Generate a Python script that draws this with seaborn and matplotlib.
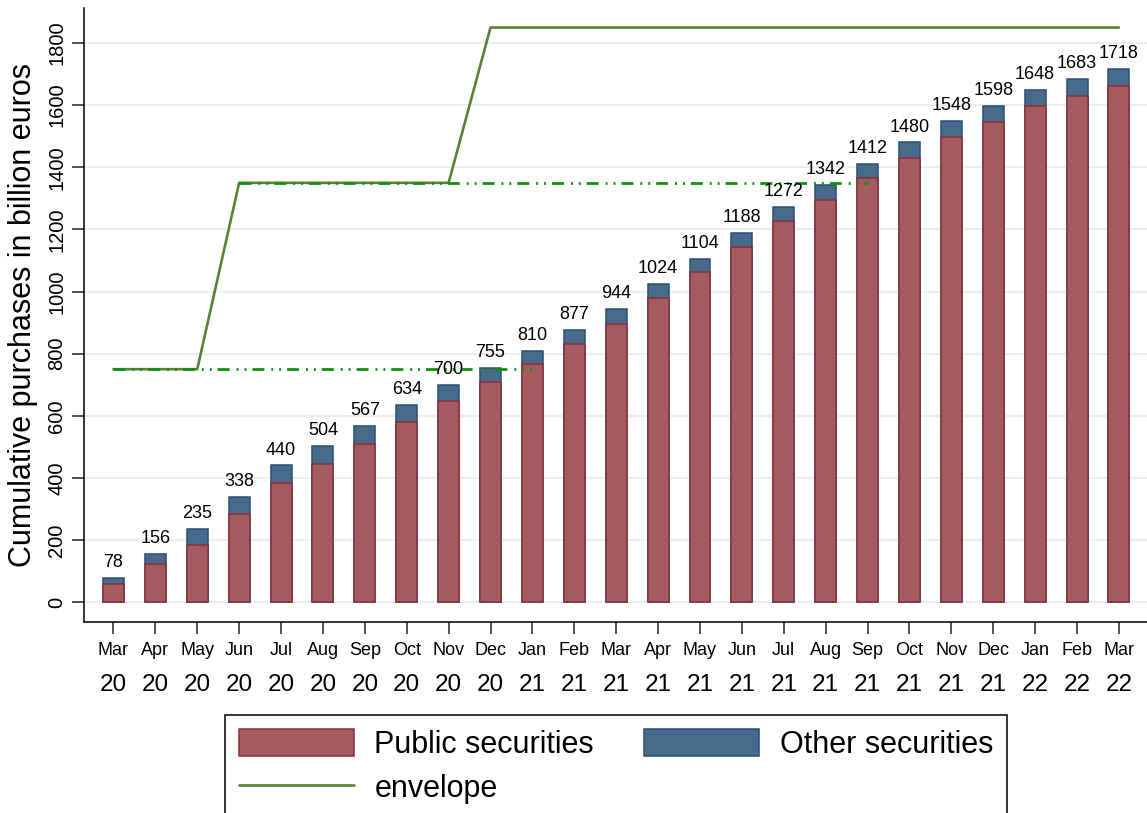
import matplotlib
matplotlib.use("Agg")
import matplotlib.pyplot as plt
import numpy as np
import pandas as pd
import seaborn as sns
from matplotlib.patches import Patch
from matplotlib.lines import Line2D

# data (billion euros, cumulative)
months = ["Mar", "Apr", "May", "Jun", "Jul", "Aug", "Sep", "Oct", "Nov", "Dec",
          "Jan", "Feb", "Mar", "Apr", "May", "Jun", "Jul", "Aug", "Sep", "Oct",
          "Nov", "Dec", "Jan", "Feb", "Mar"]
years = ["20", "20", "20", "20", "20", "20", "20", "20", "20", "20",
         "21", "21", "21", "21", "21", "21", "21", "21", "21", "21",
         "21", "21", "22", "22", "22"]
total = [78, 156, 235, 338, 440, 504, 567, 634, 700, 755, 810, 877, 944,
         1024, 1104, 1188, 1272, 1342, 1412, 1480, 1548, 1598, 1648, 1683, 1718]
public = [60, 122, 184, 284, 382, 446, 510, 580, 649, 708, 766, 831, 897,
          980, 1063, 1144, 1228, 1294, 1364, 1430, 1496, 1545, 1596, 1629, 1663]
envelope = [750, 750, 750, 1350, 1350, 1350, 1350, 1350, 1350, 1850, 1850, 1850, 1850,
            1850, 1850, 1850, 1850, 1850, 1850, 1850, 1850, 1850, 1850, 1850, 1850]
# earlier envelope levels, drawn dashed between two periods
ref_levels = [750, 1350]
ref_start = ["Mar 20", "Jun 20"]
ref_end = ["Jan 21", "Sep 21"]
yticks = [0, 200, 400, 600, 800, 1000, 1200, 1400, 1600, 1800]

periods = [m + " " + y for m, y in zip(months, years)]
df = pd.DataFrame({"period": periods, "total": total, "public": public})
pos = {p: i for i, p in enumerate(periods)}

red = "#a45b60"
red_edge = "#8c2e3a"
blue = "#486a8b"
blue_edge = "#274f78"
env_col = "#5b8038"
dash_col = "#119111"

sns.set_theme(style="white")
plt.rcParams['font.family'] = ['Liberation Sans', 'DejaVu Sans']
plt.rcParams['lines.scale_dashes'] = False
plt.rcParams['text.color'] = 'black'
plt.rcParams['axes.labelcolor'] = 'black'
plt.rcParams['xtick.color'] = 'black'
plt.rcParams['ytick.color'] = 'black'
plt.rcParams['ytick.labelsize'] = 14.5
plt.rcParams['xtick.labelsize'] = 13

fig = plt.figure(figsize=(11.47, 8.13), dpi=100)
ax = fig.add_axes([0.0732, 0.2349, 0.9268, 0.7553])

# stacked bars: total (blue) underneath, public (red) over it
sns.barplot(data=df, x="period", y="total", order=periods, color=blue, saturation=1,
            width=0.5, edgecolor=blue_edge, linewidth=1.1, errorbar=None, ax=ax)
sns.barplot(data=df, x="period", y="public", order=periods, color=red, saturation=1,
            width=0.5, edgecolor=red_edge, linewidth=1.1, errorbar=None, ax=ax)
ax.bar_label(ax.containers[0], labels=[str(v) for v in total], padding=5.0,
             fontsize=13, color="black")

sns.lineplot(x=np.arange(len(envelope)), y=envelope, color=env_col, lw=1.9,
             sort=False, ax=ax)
for lvl, a, b in zip(ref_levels, ref_start, ref_end):
    ax.plot([pos[a], pos[b]], [lvl, lvl], color=dash_col, lw=2.0,
            linestyle=(0, (8.6, 5, 1.4, 4.3, 1.4, 4.3)))

ax.set_xlim(-0.704, 24.67)
ax.set_ylim(-64, 1913)
ax.set_yticks(yticks)
ax.set_xticks(range(len(months)))
ax.set_xticklabels(months)
ax.tick_params(axis="both", length=8.6, width=1.1, color="#222222")
ax.tick_params(axis="x", pad=5.8, bottom=True, labelsize=13)
ax.tick_params(axis="y", pad=4.0, left=True, labelsize=14.5, labelrotation=90)
for lab in ax.get_yticklabels():
    lab.set_va("center")

for i, y in enumerate(years):
    ax.text(i, -0.1026, y, transform=ax.get_xaxis_transform(), ha="center",
            va="center", fontsize=17.5, color="black")

ax.set_xlabel("")
ax.set_ylabel("Cumulative purchases in billion euros", fontsize=22)
ax.yaxis.set_label_coords(-0.043, 0.5)

ax.yaxis.grid(True, color="#e8f0f2", lw=1.5)
ax.xaxis.grid(False)
ax.set_axisbelow(True)
sns.despine(ax=ax)
for s in ["left", "bottom"]:
    ax.spines[s].set_color("black")
    ax.spines[s].set_linewidth(1.1)

handles = [Patch(facecolor=red, edgecolor=red_edge, linewidth=1.1),
           Line2D([], [], color=env_col, lw=1.9),
           Patch(facecolor=blue, edgecolor=blue_edge, linewidth=1.1)]
labels = ["Public securities", "envelope", "Other securities"]
leg = fig.legend(handles, labels, loc="upper center", bbox_to_anchor=(616 / 1147, 1 - 715 / 813),
                 ncol=2, fontsize=22, frameon=True, fancybox=False, edgecolor="black",
                 framealpha=1, handlelength=3.77, handleheight=1.0, handletextpad=0.66,
                 columnspacing=1.64, borderpad=0.45, labelspacing=0.42, borderaxespad=0)
leg.get_frame().set_linewidth(1.1)

fig.savefig("out.png", dpi=100)
